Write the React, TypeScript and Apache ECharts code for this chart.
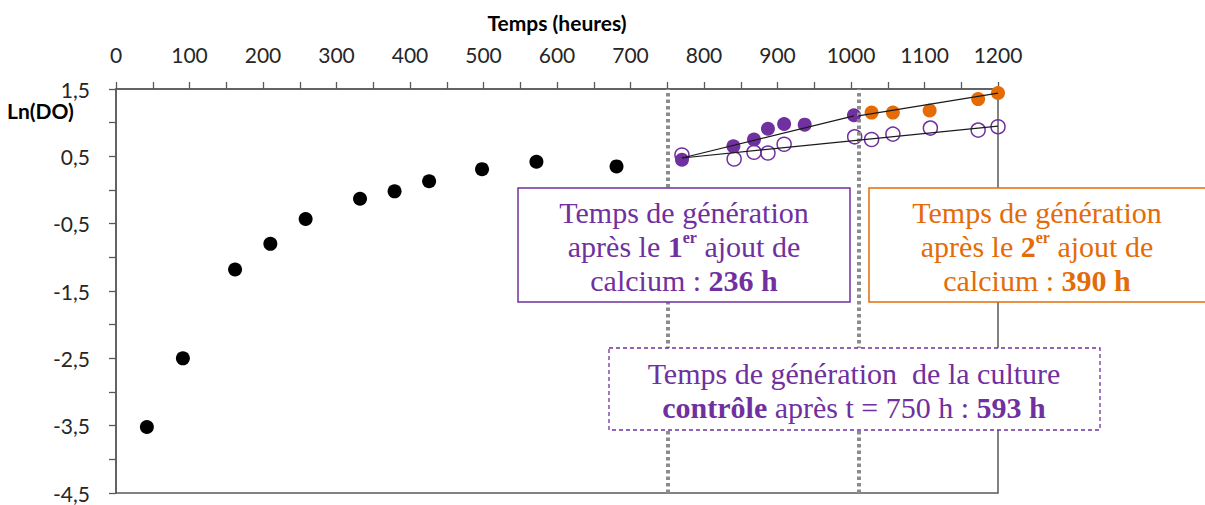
import React, { useEffect, useRef } from "react";
import * as echarts from "echarts";

// ---- data ----
const blackT = [42, 91, 162, 210, 258, 332, 379, 426, 498, 572, 681];
const blackLn = [-3.52, -2.5, -1.18, -0.8, -0.43, -0.13, -0.02, 0.13, 0.31, 0.42, 0.35];

const purpleT = [770, 840, 868, 887, 909, 937, 1004];
const purpleLn = [0.45, 0.65, 0.75, 0.91, 0.98, 0.97, 1.11];

const orangeT = [1028, 1057, 1107, 1173, 1200];
const orangeLn = [1.15, 1.15, 1.18, 1.35, 1.44];

const controlT = [770, 841, 868, 887, 909, 1005, 1028, 1057, 1108, 1173, 1200];
const controlLn = [0.52, 0.46, 0.56, 0.55, 0.68, 0.79, 0.75, 0.83, 0.92, 0.89, 0.94];

const trend1T = [770, 1004];
const trend1Ln = [0.475, 1.1];
const trend2T = [1010, 1200];
const trend2Ln = [1.1, 1.44];
const trend3T = [770, 1200];
const trend3Ln = [0.475, 0.95];

const calciumAdditions = [750, 1010];

const xTicks = { min: 0, max: 1200, step: 50 };
const yTicks = { min: -4.5, max: 1.5, step: 0.5 };

const PURPLE = "#7030A0";
const ORANGE = "#E36C09";
const AXIS = "#595959";
const SANS = "Lato, 'Open Sans', sans-serif";
const SERIF = "'Liberation Serif', serif";

const zip = (a: number[], b: number[]) => a.map((v, i) => [v, b[i]]);

export default function App() {
  const ref = useRef<HTMLDivElement>(null);

  useEffect(() => {
    if (!ref.current) return;
    const chart = echarts.init(ref.current, null, { renderer: "svg" });

    const baseRich = (color: string) => ({
      t: { fontFamily: SERIF, fontSize: 30, fill: color, color, lineHeight: 34 },
      b: { fontFamily: SERIF, fontSize: 30, fill: color, color, lineHeight: 34, fontWeight: "bold" },
      s: {
        fontFamily: SERIF,
        fontSize: 16,
        fill: color,
        color,
        lineHeight: 16,
        fontWeight: "bold",
        verticalAlign: "top",
      },
    });

    chart.setOption({
      animation: false,
      backgroundColor: "#ffffff",
      grid: {
        left: 116,
        top: 89,
        width: 882,
        height: 404,
        show: true,
        borderColor: AXIS,
        borderWidth: 1.5,
        backgroundColor: "transparent",
      },
      xAxis: {
        type: "value",
        position: "top",
        min: xTicks.min,
        max: xTicks.max,
        interval: xTicks.step,
        name: "Temps (heures)",
        nameLocation: "middle",
        nameGap: 56,
        nameTextStyle: { fontFamily: SANS, fontSize: 21, fontWeight: "bold", color: "#000" },
        axisLine: { show: true, onZero: false, lineStyle: { color: AXIS, width: 1.5 } },
        axisTick: { show: true, inside: false, length: 7, lineStyle: { color: AXIS, width: 1.3 } },
        axisLabel: {
          margin: 24,
          fontFamily: SANS,
          fontSize: 21,
          color: "#262626",
          formatter: (v: number) => (v % 100 === 0 ? String(v) : ""),
        },
        splitLine: { show: false },
      },
      yAxis: {
        type: "value",
        min: yTicks.min,
        max: yTicks.max,
        interval: yTicks.step,
        axisLine: { show: true, onZero: false, lineStyle: { color: AXIS, width: 1.5 } },
        axisTick: { show: true, inside: false, length: 7, lineStyle: { color: AXIS, width: 1.3 } },
        axisLabel: {
          margin: 26,
          fontFamily: SANS,
          fontSize: 21,
          color: "#262626",
          formatter: (v: number) =>
            Math.round((v - yTicks.min) * 2) % 2 === 0 ? v.toFixed(1).replace(".", ",") : "",
        },
        splitLine: { show: false },
      },
      graphic: [
        {
          type: "text",
          left: 7,
          top: 100,
          style: { text: "Ln(DO)", font: `bold 21px ${SANS}`, fill: "#000" },
        },
        {
          type: "rect",
          z: 100,
          shape: { x: 518, y: 188, width: 332, height: 114 },
          style: { fill: "#fff", stroke: PURPLE, lineWidth: 1.5 },
        },
        {
          type: "text",
          z: 101,
          x: 684,
          y: 246,
          style: {
            text: "{t|Temps de génération}\n{t|après le }{b|1}{s|er}{t| ajout de}\n{t|calcium : }{b|236 h}",
            rich: baseRich(PURPLE),
            fill: PURPLE,
            align: "center",
            verticalAlign: "middle",
          },
        },
        {
          type: "rect",
          z: 100,
          shape: { x: 869, y: 188, width: 340, height: 114 },
          style: { fill: "#fff", stroke: ORANGE, lineWidth: 1.5 },
        },
        {
          type: "text",
          z: 101,
          x: 1037,
          y: 246,
          style: {
            text: "{t|Temps de génération}\n{t|après le }{b|2}{s|er}{t| ajout de}\n{t|calcium : }{b|390 h}",
            rich: baseRich(ORANGE),
            fill: ORANGE,
            align: "center",
            verticalAlign: "middle",
          },
        },
        {
          type: "rect",
          z: 100,
          shape: { x: 609, y: 348, width: 491, height: 82 },
          style: { fill: "#fff", stroke: PURPLE, lineWidth: 1.3, lineDash: [4, 3] },
        },
        {
          type: "text",
          z: 101,
          x: 854,
          y: 390,
          style: {
            text: "{t|Temps de génération  de la culture}\n{b|contrôle}{t| après t = 750 h : }{b|593 h}",
            rich: baseRich(PURPLE),
            fill: PURPLE,
            align: "center",
            verticalAlign: "middle",
          },
        },
      ],
      series: [
        {
          type: "scatter",
          name: "Culture",
          data: zip(blackT, blackLn),
          symbol: "circle",
          symbolSize: 14,
          clip: false,
          itemStyle: { color: "#000", opacity: 1 },
          markLine: {
            silent: true,
            symbol: ["none", "none"],
            label: { show: false },
            lineStyle: { color: "#8c8c8c", width: 4, type: [3.5, 3] },
            data: calciumAdditions.map((v) => ({ xAxis: v })),
          },
          z: 2,
        },
        {
          type: "scatter",
          name: "Contrôle",
          data: zip(controlT, controlLn),
          symbol: "circle",
          symbolSize: 14,
          clip: false,
          itemStyle: { color: "rgba(255,255,255,0)", borderColor: PURPLE, borderWidth: 1.5, opacity: 1 },
          z: 3,
        },
        {
          type: "scatter",
          name: "1er ajout",
          data: zip(purpleT, purpleLn),
          symbol: "circle",
          symbolSize: 14,
          clip: false,
          itemStyle: { color: PURPLE, opacity: 1 },
          z: 4,
        },
        {
          type: "scatter",
          name: "2e ajout",
          data: zip(orangeT, orangeLn),
          symbol: "circle",
          symbolSize: 14,
          clip: false,
          itemStyle: { color: ORANGE, opacity: 1 },
          z: 4,
        },
        ...[
          zip(trend1T, trend1Ln),
          zip(trend2T, trend2Ln),
          zip(trend3T, trend3Ln),
        ].map((d) => ({
          type: "line",
          data: d,
          symbol: "none",
          clip: false,
          lineStyle: { color: "#1a1a1a", width: 1.2 },
          z: 6,
        })),
      ],
    });

    return () => chart.dispose();
  }, []);

  return (
    <div
      ref={ref}
      style={{ position: "fixed", left: 0, top: 0, width: 1205, height: 505, background: "#fff" }}
    />
  );
}
